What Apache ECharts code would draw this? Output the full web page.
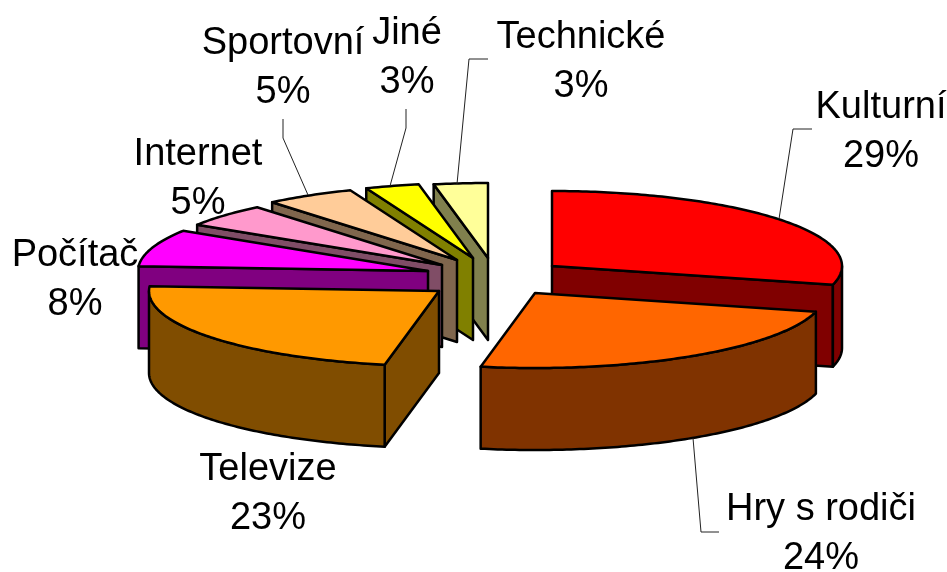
<!DOCTYPE html>
<html>
<head>
<meta charset="utf-8">
<style>html,body{margin:0;padding:0;background:#fff}#c{width:947px;height:572px}</style>
<script src="https://cdn.jsdelivr.net/npm/echarts@6/dist/echarts.min.js"></script>
</head>
<body>
<div id="c"></div>
<script>
const categories = ['Kulturní','Hry s rodiči','Televize','Počítač','Internet','Sportovní','Jiné','Technické'];
const values = [29,24,23,8,5,5,3,3];
const topColors = ['#FF0000','#FF6600','#FF9900','#FF00FF','#FF99CC','#FFCC99','#FFFF00','#FFFF99'];
const sideColors = ['#800000','#803300','#804D00','#800080','#804D66','#80664D','#808000','#80804D'];
// exploded position of each slice's tip
const tipX = [552,535,439,428,442,457,473,488];
const tipY = [266,293,291,271,265,260,258,258];
const paintOrder = [5,7,6,4,3,2,1,0]; // paint rank per slice, rear ones first
// label centres and baselines
const labelX = [881,821,268,75,198,283,407,581];
const labelY = [127,529,489,275,174,63,53,57];
const leaders = [
  [[812,129],[793,129],[779,219]],
  [[719,532],[701,532],[693,438]],
  null,null,null,
  [[283,119],[283,138],[308,195]],
  [[406,109],[406,128],[390,186]],
  [[488,59],[469,59],[457,184]]
];
const RX = 290, RY = 75, DEPTH = 82, LINE_GAP = 49;
const total = values.reduce((a,b)=>a+b,0);
const FONT = '38px "Liberation Sans", Arial, sans-serif';

function renderItem(params, api){
  const i = params.dataIndex;
  let before = 0;
  for(let k=0;k<i;k++) before += values[k];
  const v = api.value(0);
  const a0 = before/total*Math.PI*2, a1 = (before+v)/total*Math.PI*2;
  const cx = tipX[i], cy = tipY[i];
  const P = (a,d)=>[cx+RX*Math.sin(a), cy-RY*Math.cos(a)+(d||0)];
  const tip = [cx,cy], tipB = [cx,cy+DEPTH];
  const base = (paintOrder[i]+1)*10;
  const kids = [];
  const poly = (pts,fill,z)=>kids.push({type:'polygon',shape:{points:pts},z2:base+z,silent:true,
    style:{fill:fill,stroke:'#000',lineWidth:2.5,lineJoin:'round'}});
  const arc = (s,e,d)=>{
    const out=[],n=Math.max(2,Math.ceil(Math.abs(e-s)/0.015));
    for(let k=0;k<=n;k++) out.push(P(s+(e-s)*k/n,d));
    return out;
  };
  if(Math.sin(a0)<0) poly([tip,P(a0),P(a0,DEPTH),tipB],sideColors[i],1);
  if(Math.sin(a1)>0.0001) poly([tip,P(a1),P(a1,DEPTH),tipB],sideColors[i],1);
  const ws = Math.max(a0,Math.PI/2), we = Math.min(a1,Math.PI*1.5);
  if(we>ws) poly(arc(ws,we,0).concat(arc(we,ws,DEPTH)),sideColors[i],2);
  poly([tip].concat(arc(a0,a1,0)),topColors[i],3);
  if(leaders[i]) kids.push({type:'polyline',shape:{points:leaders[i]},z2:200,silent:true,
    style:{fill:null,stroke:'#222',lineWidth:1}});
  const pct = Math.round(v/total*100)+'%';
  [categories[i],pct].forEach((t,n)=>kids.push({type:'text',z2:210,silent:true,
    x:labelX[i],y:labelY[i]+n*LINE_GAP,
    style:{text:t,font:FONT,fill:'#000',align:'center',verticalAlign:'bottom'}}));
  return {type:'group',children:kids};
}

const chart = echarts.init(document.getElementById('c'),null,{renderer:'canvas'});
chart.setOption({
  animation:false,
  backgroundColor:'#fff',
  series:[{
    type:'custom',
    coordinateSystem:'none',
    renderItem:renderItem,
    data:categories.map((c,i)=>({name:c,value:[values[i]]}))
  }]
});
</script>
</body>
</html>
